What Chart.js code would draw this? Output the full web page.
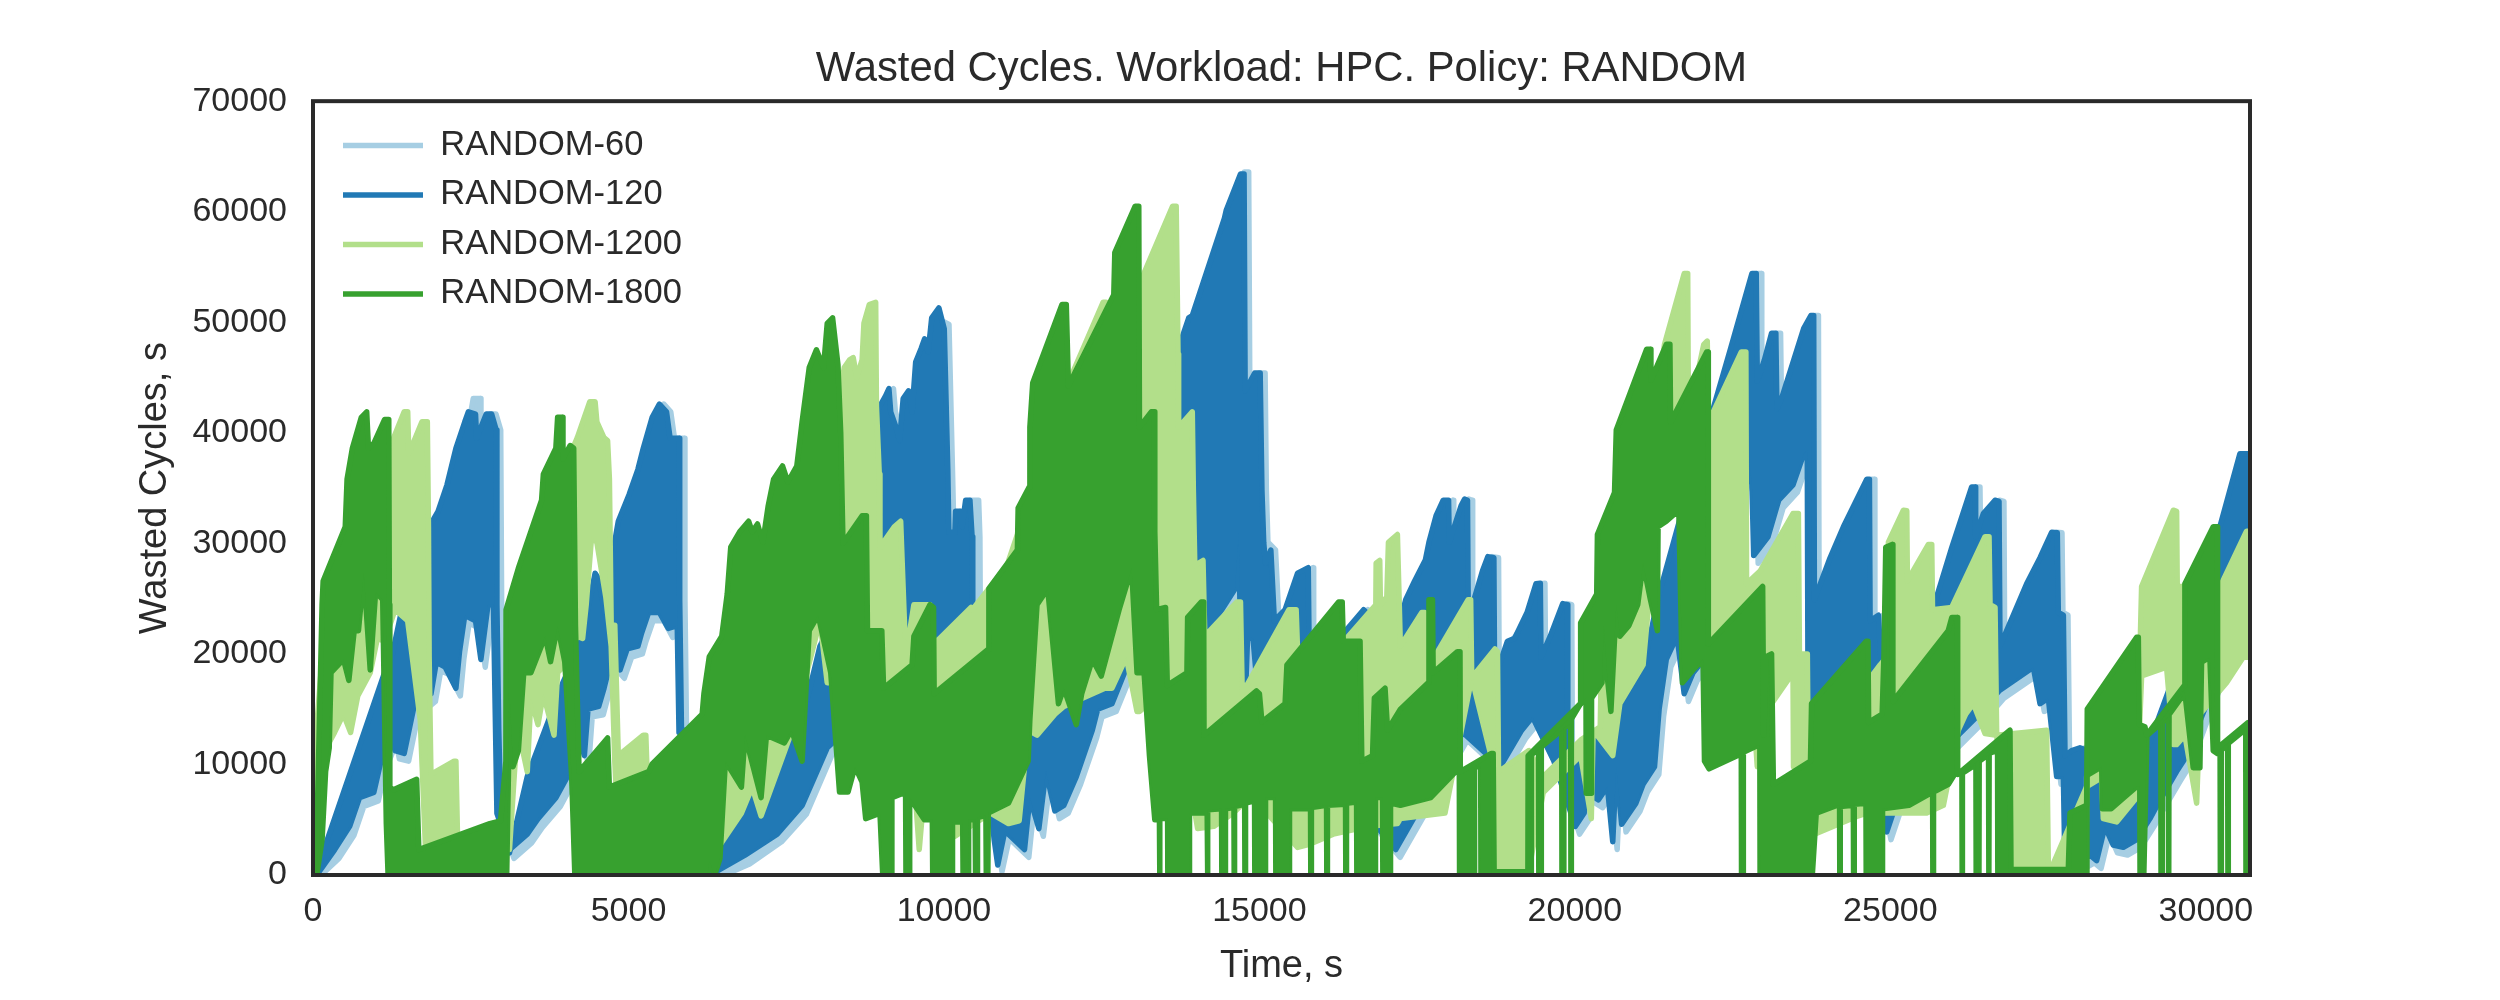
<!DOCTYPE html>
<html>
<head>
<meta charset="utf-8">
<title>Wasted Cycles</title>
<script src="https://cdn.jsdelivr.net/npm/chart.js@4"></script>
<style>
	html, body { margin: 0; padding: 0; background: #fff; }
	#wrap { width: 2500px; height: 1000px; }
</style>
</head>
<body>
<div id="wrap"><canvas id="myChart" width="2500" height="1000"></canvas></div>
<script>
//Values as [time, wasted cycles]. Each run is a dense sawtooth,
//so it is kept as the top and bottom edge of the band the sawtooth covers.

var seriesNames = ['RANDOM-60', 'RANDOM-120', 'RANDOM-1200', 'RANDOM-1800'];
var xTicks = [0, 5000, 10000, 15000, 20000, 25000, 30000];
var yTicks = [0, 10000, 20000, 30000, 40000, 50000, 60000, 70000];

var random60Top = [[0,0],[130,300],[1200,18000],[1320,19700],[1460,23500],[1540,22100],[1740,22300],[1900,19700],[1912,31500],[2050,32900],[2195,35300],[2335,38600],[2475,41000],[2540,43100],[2650,43100],[2662,39500],[2815,41700],[2900,41700],[2975,40250],[2990,24450],[3000,13100],[3030,6000],[3180,2000],[3465,8900],[4030,17400],[4260,21600],[4540,26800],[4680,24000],[4795,21600],[4825,29200],[5080,34400],[5305,38600],[5560,42600],[5670,41900],[5730,39500],[5860,39500],[5885,39500],[5895,24900],[5920,13100],[6320,0],[6640,6500],[7200,10300],[7765,12650],[8105,20700],[8435,24450],[9030,42150],[9200,44000],[9230,41900],[9370,39300],[9425,43100],[9510,43800],[9570,41900],[9625,46400],[9765,48500],[9880,50400],[10080,49800],[10135,36700],[10150,33000],[10250,31000],[10260,32900],[10330,32900],[10360,31500],[10420,33900],[10550,33900],[10570,30600],[10575,24450],[10700,24900],[11000,25000],[12000,28000],[13000,35000],[13500,30000],[13780,47100],[13950,50400],[14515,59400],[14760,63600],[14830,63600],[14848,43800],[15000,45400],[15090,45400],[15110,34800],[15135,30100],[15255,29400],[15310,23000],[15480,24000],[15675,27300],[15850,27800],[15860,21600],[16410,21900],[16720,24000],[17000,22000],[17300,23000],[17530,26600],[17755,30100],[17870,32500],[18070,33900],[18080,30100],[18320,34000],[18370,33900],[18380,24450],[18450,24450],[18690,28800],[18790,28700],[18800,18300],[19000,21150],[19310,23750],[19455,26350],[19525,26400],[19535,19700],[19880,24550],[19950,24450],[19962,9000],[20475,13100],[20730,14500],[21210,20200],[21410,25400],[21780,33000],[22200,40900],[22540,47600],[22880,54400],[22950,54400],[22962,44700],[23190,49000],[23260,49000],[23275,42150],[23700,49450],[23810,50600],[23860,50600],[23870,24900],[24115,28700],[24330,31500],[24700,35800],[24745,35800],[24755,23000],[24885,23500],[24920,19700],[25225,16900],[25755,24200],[26045,29600],[26360,35100],[26420,35100],[26430,30600],[26550,32700],[26730,33900],[26800,33800],[26812,20700],[27235,26350],[27630,31000],[27720,30950],[27735,23750],[27815,23500],[27840,10800],[28080,11500],[28600,10500],[29130,11250],[29530,17400],[29980,24450],[30295,31500],[30610,38100],[30700,38100]];
var random60Bottom = [[0,0],[130,0],[410,1500],[650,3600],[805,6200],[1035,6700],[1145,9500],[1320,11900],[1370,10500],[1515,10300],[1710,15700],[1795,15000],[1940,15700],[2025,18500],[2165,18100],[2335,16200],[2390,19500],[2475,22800],[2645,22300],[2730,18800],[2845,23700],[2930,23700],[2985,4800],[3100,2900],[3185,1500],[3465,2900],[3635,4300],[3920,6200],[4145,8600],[4255,12300],[4370,10000],[4425,14300],[4600,14500],[4680,16200],[4795,18700],[4935,17800],[5050,19700],[5220,20000],[5275,21100],[5390,23000],[5560,23000],[5700,21500],[5840,21800],[5870,12100],[5970,12300],[6020,7500],[6370,0],[6520,0],[6920,1000],[7425,3000],[7820,5500],[8220,10800],[8430,12000],[8970,13300],[9565,15800],[10070,19300],[10510,23300],[10865,2500],[10920,300],[11035,3300],[11345,1600],[11430,6300],[11575,3500],[11685,8700],[11830,5100],[11970,5600],[12165,8200],[12420,12400],[12505,14300],[12730,14800],[12930,17600],[13045,19000],[13570,22300],[13665,19500],[13770,21300],[14260,21400],[14685,25200],[14740,30300],[14770,20900],[14855,16900],[14880,20900],[14970,20700],[15080,13300],[16580,6100],[17230,1600],[18295,12200],[18885,9100],[19225,12400],[19395,13600],[19735,9600],[20075,3700],[20215,4900],[20245,6800],[20440,6100],[20585,7300],[20670,2300],[20725,9100],[20810,3900],[21035,5800],[21150,7500],[21330,9100],[21405,14300],[21520,18800],[21690,20900],[21800,15700],[21940,17600],[22110,18800],[22820,37400],[22875,34600],[22905,28200],[23130,29900],[23300,33200],[23525,34600],[23695,37400],[23750,37700],[23765,15300],[23955,13300],[24700,12000],[25010,3200],[25220,6800],[25800,10000],[26435,13600],[26800,16000],[27335,18100],[27440,14800],[27570,15300],[27705,8200],[27810,8200],[27835,0],[27890,0],[28235,1100],[28340,600],[28470,3700],[28600,2000],[28760,1800],[28970,2500],[29180,4400],[29315,5800],[29605,8600],[29790,10300],[30000,13600],[30500,20900],[30610,28200],[30700,30800]];

var random120Top = [[0,0],[59,400],[1134,18300],[1247,19700],[1388,23500],[1473,22100],[1671,22300],[1830,19700],[1841,31500],[1982,32900],[2124,35300],[2265,38600],[2406,41000],[2463,41900],[2576,41700],[2593,39500],[2746,41700],[2831,41700],[2904,40250],[2915,24450],[2944,13100],[2975,6000],[3114,2000],[3396,8900],[3960,17400],[4075,18800],[4188,21600],[4358,24000],[4471,27300],[4528,26800],[4613,24000],[4726,21600],[4754,29200],[4839,32000],[5009,34400],[5150,36700],[5235,38600],[5376,41400],[5490,42600],[5603,41900],[5660,39500],[5801,39500],[5812,24900],[5840,13100],[6250,0],[6565,6500],[7130,10300],[7695,12650],[8035,20700],[8363,24450],[8958,42150],[9071,43300],[9128,44000],[9156,41900],[9241,40500],[9297,39300],[9354,43100],[9439,43800],[9495,41900],[9552,46400],[9637,47600],[9693,48500],[9750,47300],[9806,50400],[9920,51300],[10005,49400],[10061,36700],[10078,31000],[10174,31000],[10185,32900],[10259,32900],[10287,31500],[10344,33900],[10412,33900],[10446,30600],[10457,24450],[10485,23500],[10627,24900],[11000,25000],[12000,28000],[13000,35000],[13400,30000],[13700,29000],[13710,47100],[13767,48500],[13880,50400],[13936,50600],[14445,59400],[14473,60100],[14700,63400],[14757,63400],[14774,43800],[14926,45400],[15012,45400],[15040,34800],[15068,30100],[15096,28200],[15181,29400],[15237,23000],[15407,24000],[15605,27300],[15774,27800],[15786,21600],[16340,21900],[16651,24000],[17000,22000],[17234,23000],[17319,24900],[17460,26600],[17630,28500],[17687,30100],[17800,32500],[17913,33900],[17998,33900],[18009,30100],[18196,33400],[18252,34000],[18298,33900],[18309,24450],[18377,24450],[18535,27500],[18620,28800],[18716,28700],[18727,18300],[18790,18800],[18931,21150],[19044,21400],[19242,23750],[19383,26350],[19452,26400],[19463,19700],[19610,21600],[19808,24550],[19876,24450],[19888,9000],[20402,13100],[20656,14500],[21137,20200],[21335,25400],[21704,33000],[22127,40900],[22467,47600],[22806,54400],[22874,54400],[22891,44700],[23004,46600],[23117,49000],[23185,49000],[23202,42150],[23287,43300],[23627,49450],[23740,50600],[23785,50600],[23796,24900],[24045,28700],[24256,31500],[24626,35800],[24668,35800],[24679,23000],[24811,23500],[24848,19700],[25154,16900],[25682,24200],[25972,29600],[26289,35100],[26342,35100],[26352,30600],[26474,32700],[26659,33900],[26722,33800],[26738,20700],[26949,23500],[27160,26350],[27372,28700],[27556,31000],[27646,30950],[27662,23750],[27742,23500],[27768,10800],[27873,11250],[28005,11500],[28500,10500],[29061,11250],[29457,17400],[29906,24450],[30223,31500],[30540,38100],[30672,38100],[30700,38100]];
var random120Bottom = [[0,0],[60,0],[342,2280],[581,4400],[737,7000],[964,7470],[1077,10300],[1250,12660],[1300,11250],[1445,11000],[1643,16400],[1728,15700],[1870,16400],[1954,19250],[2096,18800],[2265,16900],[2322,20200],[2406,23500],[2576,23000],[2661,19500],[2774,24450],[2860,24450],[2915,5580],[3030,3700],[3114,2280],[3396,3700],[3567,5100],[3850,7000],[4075,9350],[4188,13100],[4301,10800],[4358,15000],[4528,15250],[4613,16900],[4726,19500],[4867,18550],[4980,20450],[5150,20700],[5207,21860],[5320,23750],[5490,23750],[5631,22300],[5773,22560],[5801,12900],[5900,13100],[5950,8000],[6300,0],[6450,500],[6847,1800],[7357,3700],[7753,6300],[8150,11500],[8363,12650],[8900,14000],[9500,16500],[10000,20000],[10440,24000],[10796,3200],[10853,900],[10966,4000],[11277,2300],[11362,7000],[11504,4200],[11617,9400],[11758,5800],[11900,6300],[12098,8900],[12352,13100],[12437,15000],[12663,15500],[12861,18300],[12975,19700],[13500,23000],[13597,20200],[13700,22000],[14191,22100],[14615,25900],[14672,31000],[14700,21600],[14787,17600],[14813,21600],[14899,21400],[15012,14000],[16510,6800],[17160,2300],[18224,12900],[18818,9800],[19157,13100],[19327,14300],[19667,10300],[20006,4400],[20147,5600],[20176,7500],[20374,6800],[20515,8000],[20600,3000],[20656,9800],[20741,4600],[20968,6500],[21081,8200],[21262,9800],[21335,15000],[21449,19500],[21619,21600],[21732,16400],[21873,18300],[22043,19500],[22750,38100],[22806,35300],[22834,28900],[23061,30600],[23230,33900],[23457,35300],[23627,38100],[23683,38400],[23695,16000],[23885,14000],[24630,12700],[24943,3900],[25154,7500],[25730,10700],[26368,14300],[26730,16700],[27266,18800],[27372,15500],[27504,16000],[27636,8900],[27742,8900],[27768,500],[27820,500],[28164,1800],[28269,1300],[28401,4400],[28533,2700],[28692,2500],[28903,3200],[29114,5100],[29246,6500],[29536,9350],[29721,11000],[29932,14300],[30434,21600],[30540,28900],[30672,31500],[30700,32000]];

var random1200Top = [[0,2000],[59,13400],[150,20000],[600,30000],[1134,36000],[1247,39100],[1445,41900],[1501,41900],[1518,38100],[1727,41000],[1812,41000],[1830,31500],[1841,19700],[1869,9100],[2237,10300],[2265,10300],[2293,2800],[2600,3500],[3000,4600],[3090,5000],[3142,10800],[3255,20000],[3600,30000],[4000,37000],[4188,39550],[4386,42800],[4471,42800],[4499,41000],[4613,39550],[4669,39300],[4698,35800],[4726,22600],[4783,22600],[4839,10800],[5235,12650],[5275,12650],[5292,9800],[6200,1500],[6300,1500],[6550,9000],[7000,15000],[7583,34400],[7979,38000],[8364,43800],[8420,45900],[8505,46600],[8562,46800],[8619,45000],[8703,46600],[8732,49900],[8817,51600],[8918,51800],[8930,42400],[8975,36250],[8986,29600],[9071,30350],[9213,31500],[9314,32000],[9337,28450],[9382,21600],[9439,21400],[9524,24450],[9778,24450],[9845,20900],[10429,24200],[10450,24000],[11000,28000],[11985,44700],[12522,51800],[12570,51800],[12600,47000],[13116,53700],[13625,60500],[13681,60500],[13710,47100],[13720,40500],[13936,41900],[13953,34800],[13976,28000],[14106,28450],[14134,21600],[14643,24700],[14700,24700],[14728,16400],[15469,24000],[15582,24000],[15605,20200],[16340,21150],[16845,24450],[16850,28200],[16907,28450],[16918,24450],[17019,25150],[17045,30100],[17187,30800],[17200,28000],[17234,20700],[17574,23750],[17619,23750],[17630,18300],[18309,24900],[18348,24900],[18365,17850],[18733,20450],[18773,20200],[18790,9350],[19271,11250],[19497,8900],[20091,12200],[20402,13400],[20430,22600],[20685,24700],[21024,31050],[21420,48000],[21732,54400],[21788,54400],[21799,41400],[22043,48000],[22098,48300],[22116,40950],[22636,47300],[22710,47300],[22721,26350],[22936,27500],[23457,32700],[23542,32700],[23559,20000],[23684,20000],[23700,9350],[24200,14000],[24652,17600],[24837,19000],[24940,19700],[24969,30100],[25207,33000],[25260,32950],[25270,26600],[25603,29900],[25656,29900],[25668,24000],[25972,24200],[26500,30600],[26564,30600],[26580,24450],[26659,24200],[26685,12650],[27477,13100],[27504,500],[28100,500],[28111,8900],[28348,9800],[28586,5800],[28903,8000],[28982,26100],[29484,33000],[29537,32900],[29547,26100],[29642,26100],[29668,19700],[29906,19700],[30195,25700],[30645,31100],[30700,31100]];
var random1200Bottom = [[0,0],[59,1000],[144,6300],[228,11700],[342,12900],[483,14550],[596,12900],[709,16200],[907,18300],[1020,21400],[1134,21150],[1300,24000],[1500,23000],[1700,14000],[1784,2300],[2265,3000],[3114,2300],[3199,9800],[3255,13100],[3396,9350],[3453,16000],[3566,13600],[3651,16400],[3820,12650],[3877,18300],[3962,18800],[4188,21600],[4273,21400],[4330,24450],[4415,30600],[4499,30100],[4641,25150],[4726,20700],[4783,10300],[4800,8400],[5292,9350],[6281,1300],[6565,3700],[6790,5600],[6960,7950],[7102,5350],[7583,12900],[8035,23000],[8150,17400],[8262,17400],[8364,14000],[9495,7000],[9550,7000],[9608,2300],[9680,7000],[10174,3500],[10740,5600],[11023,4650],[11192,4900],[11334,13100],[11475,12650],[11758,14550],[11900,15250],[12550,16900],[12663,16900],[12890,19700],[13060,14800],[13100,14800],[13625,17400],[14021,4200],[14276,4400],[14587,5600],[14870,7200],[15605,2500],[15774,2750],[16170,3700],[16737,4400],[17187,4650],[17234,5100],[17941,5600],[18365,17850],[18733,9350],[18790,500],[19271,500],[19497,7450],[20091,10800],[20260,5100],[20289,13100],[20600,10800],[20713,15500],[21081,19000],[21364,36700],[21704,33000],[22100,30000],[22155,20900],[22297,22300],[22495,22300],[22721,24000],[22891,9800],[23117,15500],[23457,18300],[23465,9800],[23684,10300],[23796,3700],[24468,5300],[24626,5600],[25576,5600],[25840,6300],[26078,13100],[26194,14550],[26316,15500],[26500,12800],[26685,12650],[26923,0],[27504,0],[28111,8000],[28348,8800],[28375,5100],[28586,4800],[28903,7000],[28982,18000],[29378,18800],[29484,11800],[29536,11800],[29668,12650],[29854,6500],[29906,14550],[30223,16700],[30328,17400],[30592,19700],[30700,19700]];

var random1800Top = [[0,0],[59,3200],[144,24450],[161,26600],[511,31500],[540,35800],[624,38600],[766,41400],[851,41900],[879,38600],[964,39050],[1134,41200],[1201,41200],[1210,24450],[1218,7950],[1275,7700],[1643,8650],[1677,2300],[2802,4650],[2972,4900],[3057,10300],[3060,24000],[3255,27750],[3623,33900],[3651,36250],[3849,38600],[3877,41400],[3951,41400],[3962,37650],[4075,38850],[4132,38600],[4160,22550],[4217,9350],[4669,12400],[4697,7950],[5320,9350],[5376,10050],[6168,14550],[6196,16400],[6281,19750],[6479,21600],[6565,25400],[6621,29650],[6762,31050],[6904,32000],[6960,31050],[7045,31750],[7130,30100],[7215,33400],[7300,35800],[7441,37000],[7526,35550],[7668,37000],[7752,41000],[7865,45900],[7979,47500],[8092,45900],[8150,49900],[8235,50400],[8320,46150],[8364,40000],[8400,30000],[8703,32500],[8771,32500],[8788,22100],[9015,22100],[9043,16900],[9495,19000],[9524,21600],[9778,24450],[9835,24200],[9845,16400],[10700,20400],[10712,25900],[11164,29400],[11176,33200],[11351,35100],[11362,40500],[11407,44500],[11871,51600],[11939,51600],[11973,44250],[12692,52500],[12708,56300],[13031,60500],[13088,60500],[13099,40500],[13286,41900],[13330,41900],[13342,31050],[13371,24000],[13512,24200],[13540,17150],[13851,18300],[13862,23300],[14077,24700],[14117,24700],[14122,12650],[14954,16650],[15000,16400],[15040,13850],[15407,15500],[15436,19000],[16255,24700],[16312,24700],[16329,21150],[16595,21150],[16623,10300],[16793,10800],[16822,16000],[16991,16900],[17031,13100],[17234,15000],[17675,17400],[17687,24900],[17743,24900],[17754,18300],[18139,20200],[18179,20200],[18184,9350],[18677,11000],[18705,11000],[18720,300],[19255,300],[19259,10800],[20085,15500],[20091,22800],[20346,25400],[20357,30800],[20628,34600],[20656,40250],[21137,47550],[21194,47550],[21205,44750],[21449,48000],[21506,48000],[21517,40950],[22088,47300],[22110,47300],[22115,20900],[22976,26100],[22993,12650],[23032,19750],[23117,20000],[23146,8200],[23734,10300],[23751,15500],[24617,21150],[24645,21150],[24656,13800],[24870,14550],[24899,20000],[24927,29650],[25029,29900],[25040,15700],[25917,22100],[25974,23300],[26059,23300],[26067,9100],[26896,13100],[26912,500],[27820,500],[27847,5600],[28111,6300],[28121,15000],[28903,21500],[28930,21500],[28945,13600],[29035,13400],[29061,12650],[29660,17150],[29668,26350],[30117,31500],[30181,31500],[30186,11500],[30672,13800],[30700,13800]];
var random1800Bottom = [[0,0],[59,0],[144,3200],[200,9350],[257,11500],[285,18300],[483,19500],[568,17600],[653,22100],[720,22100],[805,27300],[907,18550],[992,25600],[1105,24900],[1162,4650],[1190,0],[3070,0],[3118,16000],[3170,9800],[3255,11250],[3340,18300],[3453,18300],[3680,21600],[3765,19300],[3877,22550],[3990,19300],[4100,8900],[4150,0],[6253,0],[6281,1300],[6366,0],[6450,1500],[6536,10300],[6790,7950],[6847,12650],[7102,7000],[7187,12650],[7470,11950],[7583,13100],[7752,10300],[7865,22100],[8007,23500],[8206,18300],[8345,7500],[8480,7500],[8590,9800],[8703,8400],[8760,5100],[8986,5600],[9030,0],[9169,0],[9175,7000],[9392,7500],[9398,0],[9451,0],[9457,7000],[9690,5000],[9816,5000],[9822,0],[10130,0],[10136,4800],[10297,4800],[10303,0],[10385,0],[10391,5000],[10495,5000],[10501,0],[10526,0],[10532,5200],[10665,5400],[10671,0],[10696,0],[10702,5600],[11023,6500],[11334,10300],[11362,14100],[11475,24450],[11645,25900],[11815,15500],[11900,16900],[12098,13600],[12183,16400],[12352,19500],[12493,18000],[12776,24000],[12975,27750],[13060,18300],[13172,18300],[13257,10800],[13342,5000],[13415,5000],[13418,0],[13421,0],[13424,5100],[13545,5100],[13548,0],[13888,0],[13892,5600],[14172,5600],[14176,0],[14180,0],[14184,5900],[14400,6000],[14404,0],[14458,0],[14462,6000],[14596,6100],[14600,0],[14604,0],[14608,6200],[14766,6400],[14770,0],[14776,0],[14780,6500],[14923,6700],[14927,0],[15093,0],[15097,7000],[15256,7000],[15260,0],[15473,0],[15477,6000],[15810,6000],[15814,0],[15820,0],[15824,6100],[16064,6300],[16068,0],[16074,0],[16078,6300],[16365,6400],[16369,0],[16376,0],[16380,6500],[16540,6600],[16544,0],[16836,0],[16840,7000],[16952,7000],[16956,0],[17074,0],[17078,6500],[17234,6300],[17715,7000],[18111,9350],[18168,9400],[18172,0],[18406,0],[18410,9800],[18507,9800],[18511,0],[18672,0],[18716,0],[19300,0],[19305,0],[19310,10900],[19424,11300],[19428,0],[19464,0],[19468,11600],[19791,13100],[19795,0],[19821,0],[19825,13300],[19933,13700],[19937,0],[19940,0],[19944,14100],[20091,15500],[20176,16000],[20180,7400],[20260,7400],[20264,16000],[20430,17400],[20458,22550],[20515,17850],[20571,14800],[20656,24450],[20713,21600],[20855,22550],[20996,24450],[21081,28200],[21194,25000],[21307,22100],[21318,31500],[21449,32000],[21647,33000],[21704,17400],[21873,18550],[22031,19500],[22054,10300],[22127,9600],[22580,10800],[22637,11000],[22641,0],[22666,0],[22670,11100],[22931,11800],[22935,0],[23763,0],[23825,5600],[24150,6300],[24195,6300],[24198,0],[24202,0],[24206,6200],[24413,6300],[24417,0],[24424,0],[24428,6400],[24613,6500],[24617,0],[24872,0],[24876,6000],[25295,6300],[25606,7300],[25670,7400],[25673,0],[25680,0],[25684,7500],[25920,8200],[26060,9500],[26134,9000],[26138,0],[26140,0],[26144,9200],[26356,10000],[26360,0],[26404,0],[26408,10300],[26556,10900],[26560,0],[26562,0],[26566,11000],[26699,11300],[26703,0],[26868,0],[26912,0],[27847,0],[28111,0],[28116,9000],[28350,9800],[28360,6000],[28500,6000],[28700,7000],[28903,8000],[28953,8000],[28957,0],[29017,0],[29066,12600],[29286,13700],[29290,0],[29308,0],[29312,13800],[29407,14300],[29411,0],[29413,0],[29417,14500],[29668,16500],[29800,9700],[29906,9700],[29932,19250],[30064,19700],[30117,11250],[30181,11000],[30226,11200],[30230,0],[30242,0],[30246,11300],[30346,11800],[30350,0],[30352,0],[30356,11900],[30632,13200],[30636,0],[30640,0],[30644,13400],[30700,13500]];

var lineColors = ['#a6cee3', '#2179b5', '#b2df8a', '#37a12f'];
var runTops = [random60Top, random120Top, random1200Top, random1800Top];
var runBottoms = [random60Bottom, random120Bottom, random1200Bottom, random1800Bottom];

function toPoints(pairs) {
	return pairs.map(function(p) { return { x: p[0], y: p[1] }; });
}

function buildDatasets() {
	var datasets = [];
	for (var i = 0; i < seriesNames.length; i++) {
		var base = {
			type: 'line',
			borderColor: lineColors[i],
			backgroundColor: lineColors[i],
			borderWidth: 5.5,
			borderCapStyle: 'round',
			borderJoinStyle: 'round',
			pointRadius: 0,
			tension: 0,
			// later runs sit on top of the earlier ones
			order: seriesNames.length - i
		};
		datasets.push(Object.assign({}, base, { label: seriesNames[i], data: toPoints(runTops[i]), fill: datasets.length + 1 }));
		datasets.push(Object.assign({}, base, { label: seriesNames[i] + ' bottom', data: toPoints(runBottoms[i]), fill: false }));
	}
	return datasets;
}

// the frame round the plot, and the legend moved to its place inside it
var framePlugin = {
	id: 'frame',
	afterLayout: function(chart) {
		chart.legend.left = chart.chartArea.left + 15;
		chart.legend.top = chart.chartArea.top + 12;
	},
	afterDraw: function(chart) {
		var a = chart.chartArea;
		var ctx = chart.ctx;
		ctx.save();
		ctx.strokeStyle = '#2a2a2a';
		ctx.lineWidth = 4;
		ctx.strokeRect(a.left, a.top, a.right - a.left, a.bottom - a.top);
		ctx.restore();
	}
};

var fontName = '"Liberation Sans", Arial, sans-serif';
var textColor = '#2a2a2a';

new Chart(document.getElementById('myChart'), {
	data: { datasets: buildDatasets() },
	plugins: [framePlugin],
	options: {
		responsive: false,
		animation: false,
		parsing: false,
		layout: { padding: { left: 133, right: 250, top: 0, bottom: 11 } },
		plugins: {
			tooltip: { enabled: false },
			title: {
				display: true,
				fullSize: false,
				text: 'Wasted Cycles. Workload: HPC. Policy: RANDOM',
				color: textColor,
				font: { family: fontName, size: 41.8, weight: 'normal' },
				padding: { top: 44, bottom: 7 }
			},
			legend: {
				position: 'chartArea',
				align: 'start',
				labels: {
					filter: function(item) { return item.datasetIndex % 2 === 0; },
					sort: function(a, b) { return a.datasetIndex - b.datasetIndex; },
					usePointStyle: true,
					pointStyle: 'line',
					pointStyleWidth: 80,
					padding: 15,
					color: textColor,
					font: { family: fontName, size: 34.5 }
				}
			}
		},
		scales: {
			x: {
				type: 'linear',
				min: 0,
				max: 30700,
				grid: { display: false },
				border: { display: false },
				afterBuildTicks: function(axis) {
					axis.ticks = xTicks.map(function(v) { return { value: v }; });
				},
				afterFit: function(axis) { axis.height = 114; },
				ticks: {
					color: textColor,
					maxRotation: 0,
					padding: 8,
					font: { family: fontName, size: 34 },
					callback: function(v) { return String(v); }
				},
				title: {
					display: true,
					text: 'Time, s',
					color: textColor,
					font: { family: fontName, size: 38 },
					padding: { top: 0, bottom: 0 }
				}
			},
			y: {
				type: 'linear',
				min: 0,
				max: 70000,
				grid: { display: false },
				border: { display: false },
				afterBuildTicks: function(axis) {
					axis.ticks = yTicks.map(function(v) { return { value: v }; });
				},
				afterFit: function(axis) { axis.width = 180; },
				ticks: {
					color: textColor,
					padding: 18,
					font: { family: fontName, size: 34 },
					callback: function(v) { return String(v); }
				},
				title: {
					display: true,
					text: 'Wasted Cycles, s',
					color: textColor,
					font: { family: fontName, size: 38 },
					padding: { top: 0, bottom: 0 }
				}
			}
		}
	}
});
</script>
</body>
</html>
